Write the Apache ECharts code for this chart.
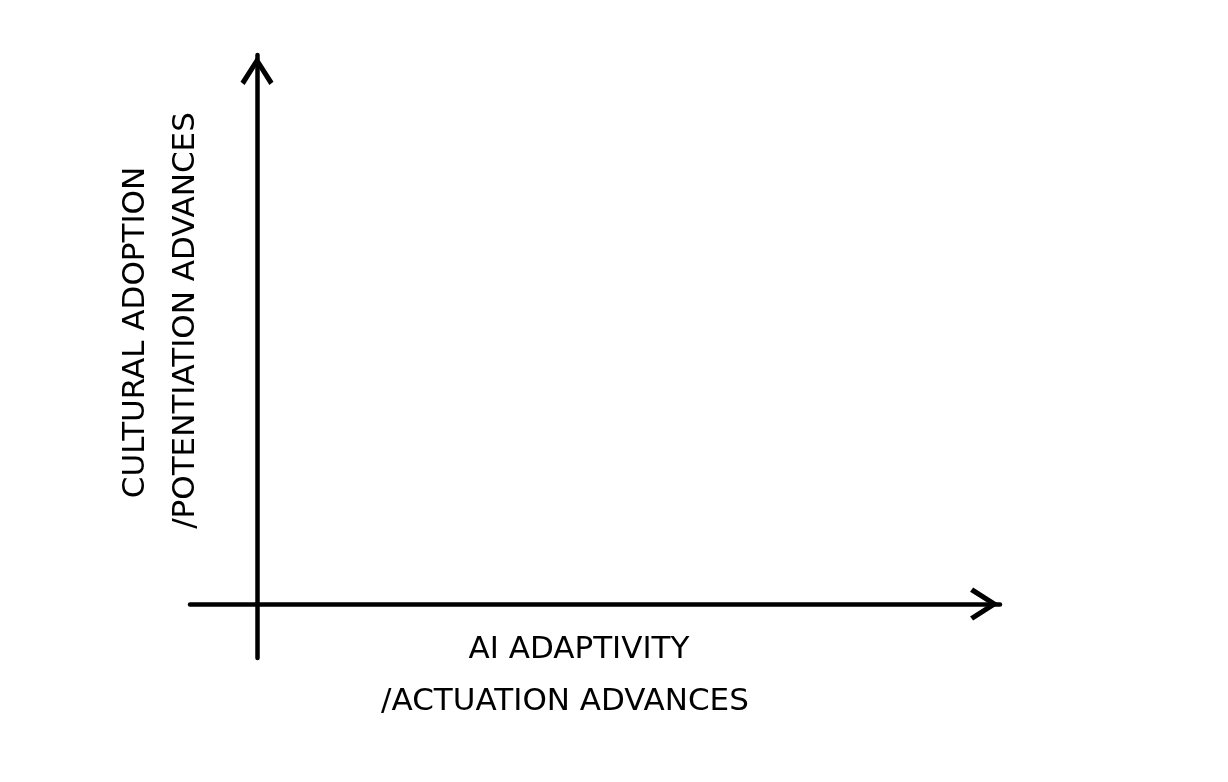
<!DOCTYPE html>
<html>
<head>
<meta charset="utf-8">
<script src="https://cdn.jsdelivr.net/npm/echarts@6/dist/echarts.min.js"></script>
<style>html,body{margin:0;padding:0;background:#fff}#c{width:1228px;height:782px}</style>
</head>
<body>
<div id="c"></div>
<script>
// Concept diagram: axes only, no data points
const xAxisTitle = ['AI ADAPTIVITY', '/ACTUATION ADVANCES'];
const yAxisTitle = ['CULTURAL ADOPTION', '/POTENTIATION ADVANCES'];
const xRange = [-67, 743];
const yRange = [-54, 549];
const points = [];

const chart = echarts.init(document.getElementById('c'), null, {renderer: 'canvas'});
const chevron = 'path://M16,0 L32,25 L28,28 L16,9 L4,28 L0,25 Z';
const axisLine = {
  show: true,
  onZero: true,
  symbol: ['none', chevron],
  symbolSize: [33, 31],
  symbolOffset: [0, -15.5],
  lineStyle: {color: '#000', width: 4.5, cap: 'round'}
};
const font = 'DejaVu Sans';
const fs = 31;
chart.setOption({
  animation: false,
  backgroundColor: '#fff',
  grid: {left: 190, right: 228, top: 55, bottom: 124, containLabel: false},
  xAxis: {
    type: 'value', min: xRange[0], max: xRange[1],
    axisLine: axisLine,
    axisTick: {show: false}, axisLabel: {show: false}, splitLine: {show: false},
    name: '{a|' + xAxisTitle[0] + '}\n{b|' + xAxisTitle[1] + '}',
    nameLocation: 'middle', nameGap: -34,
    nameTextStyle: {
      color: '#000', fontFamily: font, fontSize: fs, lineHeight: 52, verticalAlign: 'top',
      rich: {
        a: {color: '#000', fontFamily: font, fontSize: fs, lineHeight: 52, padding: [0, 32, 0, 0]},
        b: {color: '#000', fontFamily: font, fontSize: fs, lineHeight: 52, padding: [0, 60, 0, 0]}
      }
    }
  },
  yAxis: {
    type: 'value', min: yRange[0], max: yRange[1],
    axisLine: axisLine,
    axisTick: {show: false}, axisLabel: {show: false}, splitLine: {show: false},
    name: '{a|' + yAxisTitle[0] + '}\n{b|' + yAxisTitle[1] + '}',
    nameLocation: 'middle', nameGap: -21,
    nameTextStyle: {
      color: '#000', fontFamily: font, fontSize: fs, lineHeight: 50,
      rich: {
        a: {color: '#000', fontFamily: font, fontSize: fs, lineHeight: 50, padding: [0, 0, 0, 48]},
        b: {color: '#000', fontFamily: font, fontSize: fs, lineHeight: 50, padding: [0, 0, 0, 72]}
      }
    }
  },
  series: [{type: 'scatter', data: points}]
});
</script>
</body>
</html>
